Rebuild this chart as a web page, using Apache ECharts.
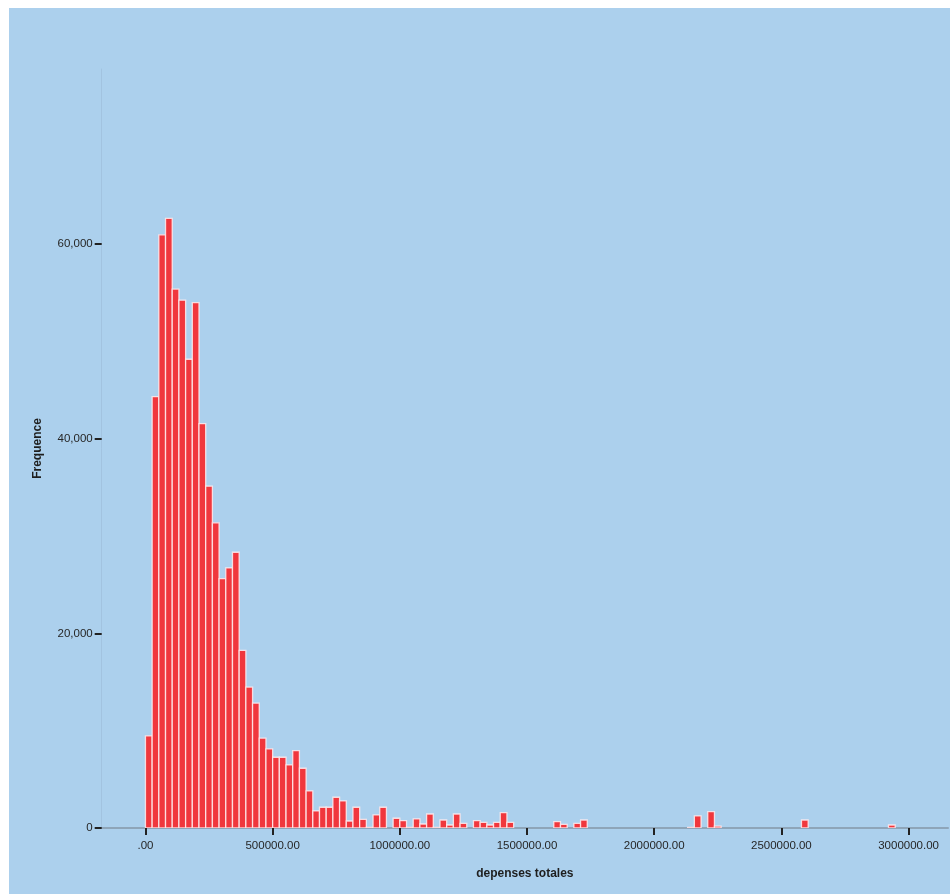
<!DOCTYPE html>
<html>
<head>
<meta charset="utf-8">
<script src="https://cdn.jsdelivr.net/npm/echarts@6/dist/echarts.min.js"></script>
<style>
  html, body { margin:0; padding:0; background:#ffffff; }
  #chart { position:absolute; left:9px; top:8px; width:941px; height:886px; background:#acd0ed; }
</style>
</head>
<body>
<div id="chart"></div>
<script>
// histogram of "depenses totales", bins start at 0
const BIN_WIDTH = 26316;
const counts = [
  9470, 44330, 60960, 62650, 55380, 54240, 48170, 54000, 41550, 35130,
  31360, 25630, 26730, 28340, 18250, 14480, 12830, 9230, 8130, 7270,
  7270, 6480, 7960, 6140, 3810, 1750, 2130, 2130, 3160, 2780,
  720, 2130, 890, 60, 1340, 2130, 0, 1000, 750, 60,
  930, 410, 1440, 60, 820, 310, 1440, 480, 0, 750,
  580, 310, 580, 1580, 580, 0, 0, 0, 0, 0,
  0, 650, 380, 0, 480, 820, 0, 0, 0, 0,
  0, 0, 0, 0, 0, 0, 0, 0, 0, 0,
  0, 60, 1240, 0, 1680, 200, 0, 0, 0, 0,
  0, 0, 0, 0, 0, 0, 0, 0, 820, 0,
  0, 0, 0, 0, 0, 0, 0, 0, 0, 0,
  0, 310
];

const xTicks = [0, 500000, 1000000, 1500000, 2000000, 2500000, 3000000];
const xTickLabels = [".00", "500000.00", "1000000.00", "1500000.00", "2000000.00", "2500000.00", "3000000.00"];
const yTicks = [0, 20000, 40000, 60000];
const yTickLabels = ["0", "20,000", "40,000", "60,000"];

const xTitle = "depenses totales";
const yTitle = "Frequence";

function buildBins(){
  const rows = [];
  counts.forEach((c, i) => {
    if(c > 0) rows.push([i * BIN_WIDTH, (i + 1) * BIN_WIDTH, c]);
  });
  return rows;
}

function renderBar(params, api){
  const topLeft = api.coord([api.value(0), api.value(2)]);
  const bottomRight = api.coord([api.value(1), 0]);
  return {
    type: "rect",
    shape: {
      x: topLeft[0],
      y: topLeft[1],
      width: bottomRight[0] - topLeft[0],
      height: bottomRight[1] - topLeft[1]
    },
    style: { fill: "#f0373d", stroke: "rgba(255,236,238,0.85)", lineWidth: 1.3 }
  };
}

const labelFont = { fontFamily: "Liberation Sans, Arial, sans-serif", fontSize: 11.5, color: "#262626" };
const titleFont = { fontFamily: "Liberation Sans, Arial, sans-serif", fontSize: 12, fontWeight: "bold", color: "#1e1e1e" };

const chart = echarts.init(document.getElementById("chart"), null, { renderer: "canvas" });
chart.setOption({
  animation: false,
  backgroundColor: "transparent",
  grid: { left: 92.7, right: 2, top: 61, bottom: 66 },
  xAxis: {
    type: "value",
    min: -172000,
    max: 3155000,
    name: xTitle,
    nameLocation: "middle",
    nameGap: 40,
    nameTextStyle: titleFont,
    splitLine: { show: false },
    axisLine: { show: true, onZero: false, lineStyle: { color: "#8ea5b9", width: 2 } },
    axisTick: { show: true, length: 7, customValues: xTicks, lineStyle: { color: "#222", width: 2 } },
    axisLabel: Object.assign({
      margin: 12,
      customValues: xTicks,
      formatter: v => xTickLabels[xTicks.indexOf(v)] ?? ""
    }, labelFont)
  },
  yAxis: {
    type: "value",
    min: 0,
    max: 78000,
    name: yTitle,
    nameLocation: "middle",
    nameGap: 58,
    nameTextStyle: titleFont,
    splitLine: { show: false },
    axisLine: { show: true, onZero: false, lineStyle: { color: "#a2c3e0", width: 1 } },
    axisTick: { show: true, length: 7, customValues: yTicks, lineStyle: { color: "#222", width: 2 } },
    axisLabel: Object.assign({
      margin: 9,
      customValues: yTicks,
      formatter: v => yTickLabels[yTicks.indexOf(v)] ?? ""
    }, labelFont)
  },
  series: [{
    type: "custom",
    renderItem: renderBar,
    encode: { x: [0, 1], y: 2 },
    data: buildBins(),
    clip: true
  }]
});
window.addEventListener("resize", () => chart.resize());
</script>
</body>
</html>
